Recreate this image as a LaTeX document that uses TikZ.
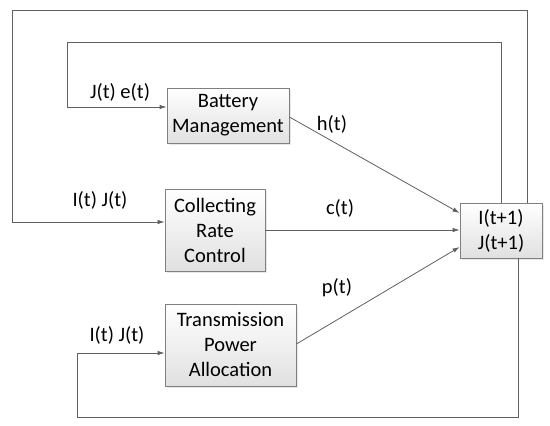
\documentclass[tikz,border=0pt]{standalone}
\usepackage{fontspec}
\setmainfont{Carlito}
\usetikzlibrary{arrows.meta,shadows}
\definecolor{linegray}{HTML}{606060}
\definecolor{boxgray}{HTML}{808080}
\tikzset{
  blockbox/.style={draw=boxgray, line width=0.8pt, rectangle, top color=white, bottom color=black!12,
    drop shadow={opacity=0.18, shadow xshift=1.5pt, shadow yshift=-1.5pt},
    align=center, inner sep=0pt, font=\fontsize{20.5}{25}\selectfont},
  conn/.style={draw=linegray, line width=0.8pt},
  arr/.style={conn, -{Latex[length=7pt,width=4.5pt]}},
  lbl/.style={font=\fontsize{20.5}{25}\selectfont, inner sep=0pt}
}
\begin{document}
\begin{tikzpicture}[x=1pt,y=-1pt]
\useasboundingbox (0,0) rectangle (550,426);
\fill[white] (0,0) rectangle (550,426);
% blocks
\node[blockbox, minimum width=122pt, minimum height=55pt] (bat) at (228,115.5) {Battery\\Management};
\node[blockbox, minimum width=100pt, minimum height=82pt] (col) at (215,230) {Collecting\\Rate\\Control};
\node[blockbox, minimum width=131pt, minimum height=82pt] (tra) at (230.5,345) {Transmission\\Power\\Allocation};
\node[blockbox, minimum width=82pt, minimum height=55pt] (ibx) at (501,230.5) {I(t+1)\\J(t+1)};
% corner coordinates
\coordinate (o1) at (527,10);
\coordinate (o2) at (12,10);
\coordinate (o3) at (12,222);
\coordinate (i1) at (501.5,42);
\coordinate (i2) at (67,42);
\coordinate (i3) at (67,107);
\coordinate (b1) at (518,417);
\coordinate (b2) at (77,417);
\coordinate (b3) at (77,353);
% feedback loops
\draw[arr] (ibx.north -| o1) -- (o1) -- (o2) -- (o3) -- (col.west |- o3);
\draw[arr] (ibx.north -| i1) -- (i1) -- (i2) -- (i3) -- (bat.west |- i3);
\draw[arr] (ibx.south -| b1) -- (b1) -- (b2) -- (b3) -- (tra.west |- b3);
% forward connectors
\coordinate (h0) at (289,117);
\coordinate (h1) at (460,213);
\coordinate (p0) at (296,344);
\coordinate (p1) at (460,247);
\draw[arr] (bat.east |- h0) -- (ibx.west |- h1);
\draw[arr] (col.east) -- (ibx.west |- col.east);
\draw[arr] (tra.east |- p0) -- (ibx.west |- p1);
% labels
\node[lbl] (l1) at (120,92) {J(t) e(t)};
\node[lbl] (l2) at (332,124) {h(t)};
\node[lbl] (l3) at (100,200) {I(t) J(t)};
\node[lbl] (l4) at (340,208) {c(t)};
\node[lbl] (l5) at (337,288) {p(t)};
\node[lbl] (l6) at (117,335) {I(t) J(t)};
\end{tikzpicture}
\end{document}
